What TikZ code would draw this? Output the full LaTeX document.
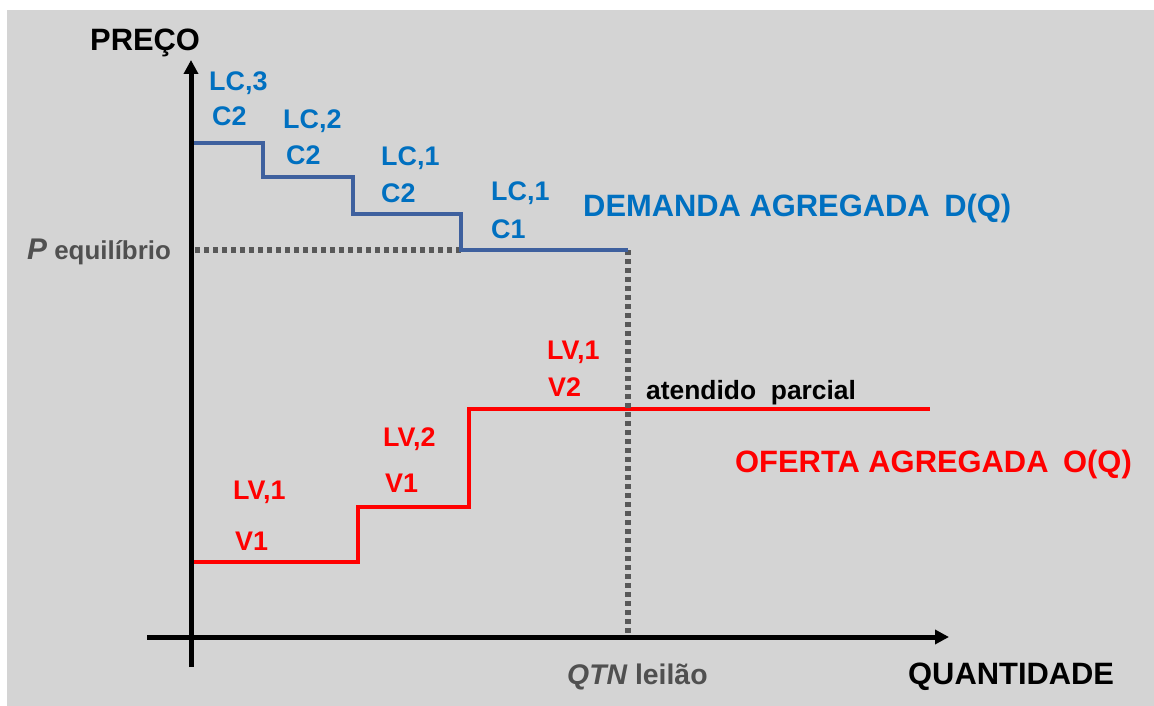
\documentclass[tikz,border=0pt]{standalone}
\usepackage{fontspec}
\setmainfont{Liberation Sans}
\usetikzlibrary{arrows.meta}
\definecolor{fundo}{RGB}{212,212,212}
\definecolor{azultxt}{RGB}{0,112,192}
\definecolor{azullinha}{RGB}{62,96,158}
\definecolor{vermelho}{RGB}{255,0,0}
\definecolor{cinza}{RGB}{88,88,88}
\definecolor{cinzatxt}{RGB}{80,80,80}
\tikzstyle{rotc}=[anchor=base west,inner sep=0pt,text=azultxt,font=\fontsize{27}{27}\selectfont\bfseries]
\tikzstyle{rotv}=[anchor=base west,inner sep=0pt,text=vermelho,font=\fontsize{27}{27}\selectfont\bfseries]
\tikzstyle{titulo}=[anchor=base west,inner sep=0pt,font=\fontsize{31}{31}\selectfont\bfseries]
\tikzstyle{eixo}=[line width=5bp,-{Triangle[length=14bp,width=14bp]}]
\tikzstyle{degrau}=[line width=4.5bp,line join=miter]
\tikzstyle{guia}=[line width=5.5bp,cinza,dash pattern=on 5bp off 4bp]

\begin{document}
\begin{tikzpicture}[x=1bp,y=-1bp]
    \useasboundingbox (0,0) rectangle (1154,706);
    \fill[fundo] (7,10) rectangle (1154,706);

    \coordinate (yb) at (191,667);
    \coordinate (yt) at (191,60);
    \coordinate (xb) at (147,637);
    \coordinate (xt) at (949,637);
    \coordinate (peq) at (195,250);
    \coordinate (eq) at (628,250);
    \coordinate (qtn) at (628,637);

    % oferta
    \draw[degrau,vermelho] (193,562) -- (358,562) -- (358,507) -- (469,507) -- (469,409) -- (930,409);
    % linhas de equilibrio
    \draw[guia] (peq) -- (461,250);
    \draw[guia] (eq) -- (qtn);
    % demanda
    \draw[degrau,azullinha] (193,143) -- (263,143) -- (263,177) -- (353,177) -- (353,214) -- (461,214) -- (461,250) -- (eq);

    \draw[eixo] (yb) -- (yt);
    \draw[eixo] (xb) -- (xt);

    \node[titulo] (preco) at (90,51) {PREÇO};
    \node[titulo] (quant) at (908,684) {QUANTIDADE};
    \node[titulo,text=azultxt] (dem) at (583,217) {DEMANDA AGREGADA\hspace{6bp} D(Q)};
    \node[titulo,text=vermelho] (ofe) at (735,472) {OFERTA AGREGADA\hspace{6bp} O(Q)};

    \node[rotc] (lc3) at (209,91) {LC,3};
    \node[rotc] (c2a) at (212,126) {C2};
    \node[rotc] (lc2) at (283,129) {LC,2};
    \node[rotc] (c2b) at (286,165) {C2};
    \node[rotc] (lc1a) at (381,166) {LC,1};
    \node[rotc] (c2c) at (381,203) {C2};
    \node[rotc] (lc1b) at (491,201) {LC,1};
    \node[rotc] (c1) at (491,238) {C1};

    \node[rotv] (lv1a) at (547,359) {LV,1};
    \node[rotv] (v2) at (548,396) {V2};
    \node[rotv] (lv2) at (383,446) {LV,2};
    \node[rotv] (v1a) at (385,492) {V1};
    \node[rotv] (lv1b) at (233,499) {LV,1};
    \node[rotv] (v1b) at (235,550) {V1};

    \node[anchor=base west,inner sep=0pt,font=\fontsize{26.5}{26.5}\selectfont\bfseries] (parc) at (646,399) {atendido\ \ parcial};
    \node[anchor=base west,inner sep=0pt,text=cinzatxt,font=\fontsize{26}{26}\selectfont\bfseries] (pe) at (27,259)
        {{\fontsize{30}{30}\selectfont\itshape P} equilíbrio};
    \node[anchor=base west,inner sep=0pt,text=cinzatxt,font=\fontsize{28.5}{28.5}\selectfont\bfseries] (ql) at (567,684)
        {{\itshape QTN} leilão};
\end{tikzpicture}
\end{document}
